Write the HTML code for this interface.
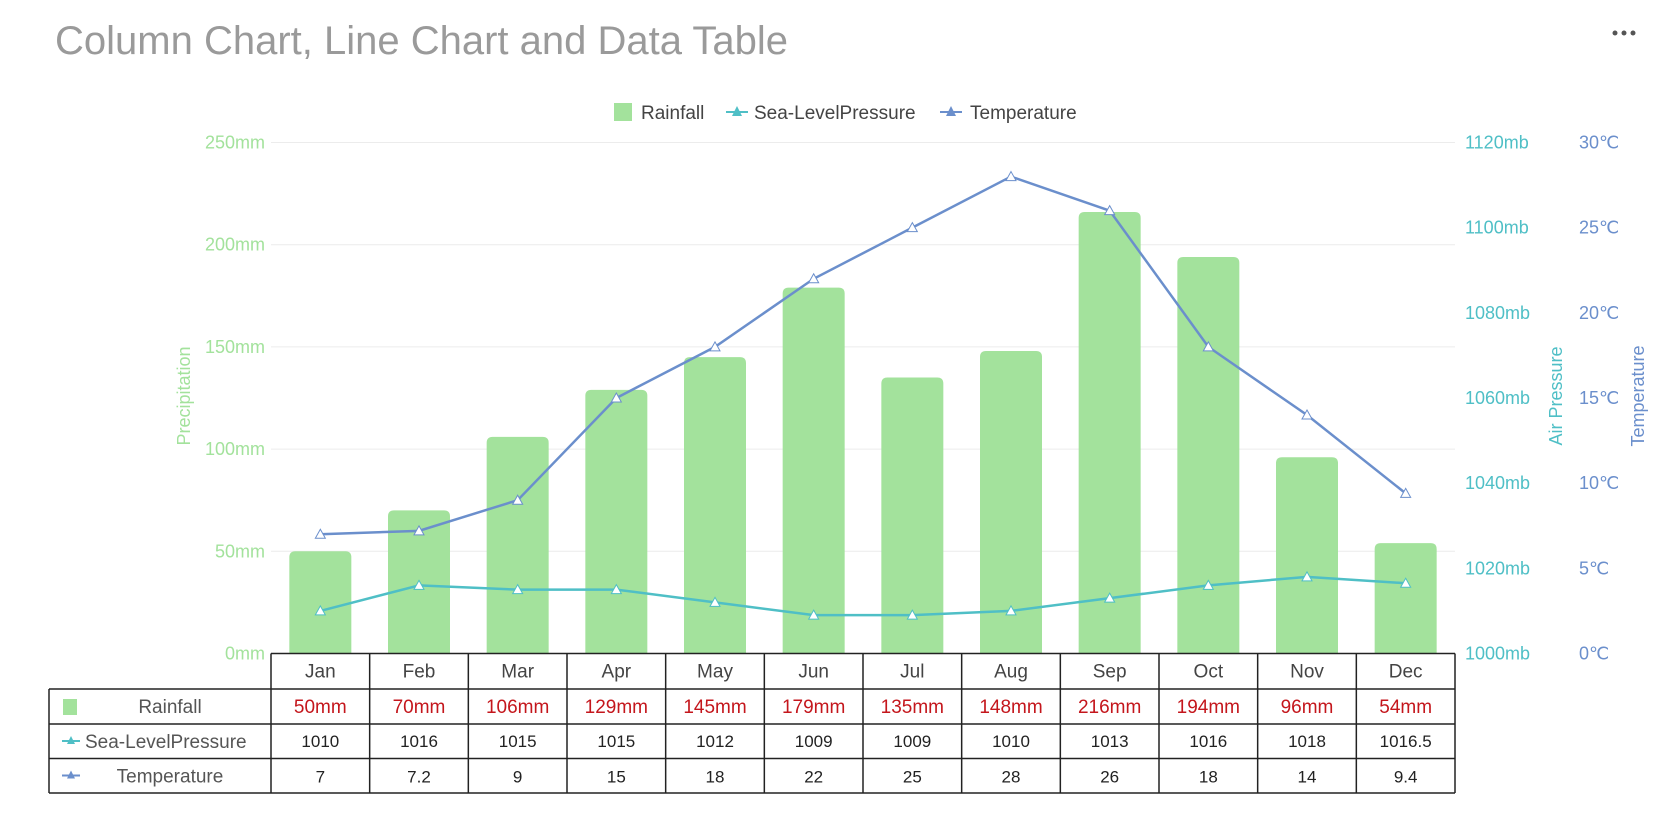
<!DOCTYPE html>
<html><head><meta charset="utf-8"><style>
body{margin:0;background:#fff;font-family:"Liberation Sans",sans-serif}
svg{display:block}
</style></head><body>
<svg id="chart" width="1680" height="831" viewBox="0 0 1680 831">
<text x="55" y="54" font-size="40" fill="#9a9a9a">Column Chart, Line Chart and Data Table</text>
<g><circle cx="1615" cy="33" r="2.5" fill="#555"/><circle cx="1624" cy="33" r="2.5" fill="#555"/><circle cx="1633" cy="33" r="2.5" fill="#555"/></g>
<g id="legend" font-size="19" fill="#444">
<g><rect x="614" y="103" width="18" height="18" fill="#a3e29c"/><text x="641" y="119">Rainfall</text></g>
<g><line x1="726" y1="112" x2="748" y2="112" stroke="#4fbfc6" stroke-width="2"/><path d="M737,106 L742,116 L732,116Z" fill="#4fbfc6"/><text x="754" y="119">Sea-LevelPressure</text></g>
<g><line x1="940" y1="112" x2="962" y2="112" stroke="#6b8fcc" stroke-width="2"/><path d="M951,106 L956,116 L946,116Z" fill="#6b8fcc"/><text x="970" y="119">Temperature</text></g>
</g>
<g id="grid"></g><g id="bars"></g><g id="lines"></g><g id="axes"></g><g id="table"></g>
</svg>
<script>
const categories=["Jan","Feb","Mar","Apr","May","Jun","Jul","Aug","Sep","Oct","Nov","Dec"];
const rainfall=[50,70,106,129,145,179,135,148,216,194,96,54];
const rainfallLabels=["50mm","70mm","106mm","129mm","145mm","179mm","135mm","148mm","216mm","194mm","96mm","54mm"];
const pressure=[1010,1016,1015,1015,1012,1009,1009,1010,1013,1016,1018,1016.5];
const temperature=[7,7.2,9,15,18,22,25,28,26,18,14,9.4];
const rainTicks=[0,50,100,150,200,250];
const pressTicks=[1000,1020,1040,1060,1080,1100,1120];
const tempTicks=[0,5,10,15,20,25,30];
const NS="http://www.w3.org/2000/svg";
const X0=271,X1=1455,Y0=653.5,Y1=142.5;
const bw=(X1-X0)/categories.length;
const xC=i=>X0+bw*(i+0.5);
const yR=v=>Y0-(v-0)/(250-0)*(Y0-Y1);
const yP=v=>Y0-(v-1000)/(120)*(Y0-Y1);
const yT=v=>Y0-(v-0)/(30)*(Y0-Y1);
function mk(tag,attrs,parent,text){const e=document.createElementNS(NS,tag);for(const k in attrs)e.setAttribute(k,attrs[k]);if(text!==undefined)e.textContent=text;parent.appendChild(e);return e;}
const grid=document.getElementById('grid'),axes=document.getElementById('axes');
rainTicks.forEach((t,i)=>{
 const l=mk('line',{x1:X0,x2:X1,y1:yR(t),y2:yR(t),stroke:'#ececec'},grid);
 
 
 const tx=mk('text',{x:265,y:yR(t)+6,'text-anchor':'end','font-size':18,fill:'#a3e29c'},axes,t+'mm');
 
 
});
pressTicks.forEach(t=>{
 const tx=mk('text',{x:1465,y:yP(t)+6,'font-size':18,fill:'#4fbfc6'},axes,t+'mb');
 
 
});
tempTicks.forEach(t=>{
 const tx=mk('text',{x:1579,y:yT(t)+6,'font-size':18,fill:'#6b8fcc'},axes,t+'℃');
 
 
});
let at=mk('text',{x:0,y:0,transform:'translate(190,396) rotate(-90)','text-anchor':'middle','font-size':18,fill:'#a3e29c'},axes,'Precipitation');


at=mk('text',{x:0,y:0,transform:'translate(1562,396) rotate(-90)','text-anchor':'middle','font-size':18,fill:'#4fbfc6'},axes,'Air Pressure');


at=mk('text',{x:0,y:0,transform:'translate(1644,396) rotate(-90)','text-anchor':'middle','font-size':18,fill:'#6b8fcc'},axes,'Temperature');


const bars=document.getElementById('bars');
const bW=62;
rainfall.forEach((v,i)=>{
 const x=xC(i)-bW/2,y=yR(v),h=Y0-y,r=6;
 const p=mk('path',{d:`M${x},${Y0} L${x},${y+r} Q${x},${y} ${x+r},${y} L${x+bW-r},${y} Q${x+bW},${y} ${x+bW},${y+r} L${x+bW},${Y0}Z`,fill:'#a3e29c'},bars);
 
 
});
const lines=document.getElementById('lines');
function series(vals,yf,color,name){
 const pl=mk('polyline',{points:vals.map((v,i)=>xC(i)+','+yf(v)).join(' '),fill:'none',stroke:color,'stroke-width':2.5},lines);
 
 
 vals.forEach((v,i)=>{
  const x=xC(i),y=yf(v);
  const m=mk('path',{d:`M${x},${y-5} L${x+5},${y+4} L${x-5},${y+4}Z`,fill:'#fff',stroke:color,'stroke-width':1},lines);
  
  
 });
}
series(pressure,yP,'#4fbfc6','pressure');
series(temperature,yT,'#6b8fcc','temperature');
const tb=document.getElementById('table');
const rows=[653.5,689,724,758.5,793];
const TL=49;
const stroke={stroke:'#222','stroke-width':1.5};
mk('line',Object.assign({x1:X0,x2:X1,y1:rows[0],y2:rows[0]},stroke),tb);
for(let r=1;r<rows.length;r++) mk('line',Object.assign({x1:TL,x2:X1,y1:rows[r],y2:rows[r]},stroke),tb);
mk('line',Object.assign({x1:TL,x2:TL,y1:rows[1],y2:rows[4]},stroke),tb);
for(let i=0;i<=categories.length;i++) mk('line',Object.assign({x1:X0+bw*i,x2:X0+bw*i,y1:rows[0],y2:rows[4]},stroke),tb);
categories.forEach((c,i)=>{
 const t=mk('text',{x:xC(i),y:rows[0]+24,'text-anchor':'middle','font-size':19,fill:'#444'},tb,c);
 
 
 const a=mk('text',{x:xC(i),y:rows[1]+24,'text-anchor':'middle','font-size':19,fill:'#c4161c'},tb,rainfallLabels[i]);
 
 
 const b=mk('text',{x:xC(i),y:rows[2]+23,'text-anchor':'middle','font-size':17,fill:'#222'},tb,String(pressure[i]));
 
 
 const d=mk('text',{x:xC(i),y:rows[3]+24,'text-anchor':'middle','font-size':17,fill:'#222'},tb,String(temperature[i]));
 
 
});
mk('rect',{x:63,y:rows[1]+10,width:14,height:16,fill:'#a3e29c'},tb);
let h=mk('text',{x:170,y:rows[1]+24,'text-anchor':'middle','font-size':19,fill:'#555'},tb,'Rainfall');


mk('line',{x1:62,x2:80,y1:rows[2]+17,y2:rows[2]+17,stroke:'#4fbfc6','stroke-width':2},tb);
mk('path',{d:`M71,${rows[2]+12} L75,${rows[2]+20} L67,${rows[2]+20}Z`,fill:'#4fbfc6'},tb);
h=mk('text',{x:85,y:rows[2]+24,'font-size':19,fill:'#555'},tb,'Sea-LevelPressure');


mk('line',{x1:62,x2:80,y1:rows[3]+17,y2:rows[3]+17,stroke:'#6b8fcc','stroke-width':2},tb);
mk('path',{d:`M71,${rows[3]+12} L75,${rows[3]+20} L67,${rows[3]+20}Z`,fill:'#6b8fcc'},tb);
h=mk('text',{x:170,y:rows[3]+24,'text-anchor':'middle','font-size':19,fill:'#555'},tb,'Temperature');


</script>
</body></html>
